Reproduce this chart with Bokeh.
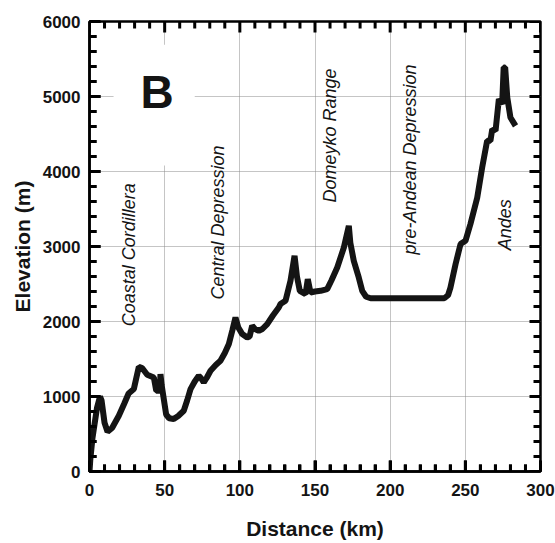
import math
from bokeh.plotting import figure
from bokeh.models import Range1d, SingleIntervalTicker, ColumnDataSource
from bokeh.core.properties import value
from bokeh.embed import file_html
from bokeh.resources import INLINE

# ---- data: topographic profile ----
distance_km = [0, 0.5, 2, 5, 7, 8, 10, 12, 15, 19.5, 23, 26, 29.5, 32.8, 35,
               38.4, 42.8, 44.4, 46.8, 47.2, 48, 51, 53, 56, 59, 62.7, 65, 67.2,
               70, 72.7, 74, 76, 78, 80.5, 84, 87.1, 90, 92.7, 95, 97.1, 99,
               101.6, 104.9, 106.5, 108.2, 110, 112.6, 115, 118.2, 122, 125.9,
               127, 130.4, 133.7, 136.4, 138, 139.9, 143.7, 145.2, 147, 150,
               153.7, 158.1, 161, 164.8, 169.2, 172.5, 173.5, 175.8, 179.1,
               181.4, 184, 187, 236, 238.5, 240.1, 243.5, 246.8, 250.1, 253.4,
               257.9, 261.2, 264.5, 266.7, 267.9, 270.1, 272.3, 274.5, 275.5,
               276.5, 277.9, 280, 283.4]
elevation_m = [0, 150, 450, 850, 1000, 950, 650, 530, 580, 743, 900, 1040, 1100,
               1396, 1380, 1290, 1253, 1076, 1076, 1300, 1150, 760, 710, 700,
               740, 810, 950, 1098, 1200, 1276, 1250, 1187, 1250, 1343, 1420,
               1476, 1580, 1699, 1880, 2053, 1920, 1832, 1787, 1800, 1943, 1900,
               1876, 1900, 1965, 2080, 2187, 2232, 2276, 2543, 2876, 2600, 2409,
               2365, 2565, 2387, 2400, 2409, 2432, 2550, 2720, 2987, 3276, 3050,
               2809, 2587, 2409, 2330, 2310, 2310, 2350, 2453, 2765, 3032, 3076,
               3300, 3650, 4053, 4409, 4409, 4565, 4543, 4965, 4898, 5387, 5387,
               4987, 4720, 4609]

region_names = ["Coastal Cordillera", "Central Depression", "Domeyko Range",
                "pre-Andean Depression", "Andes"]
region_x = [26.3, 85.8, 160.3, 213.5, 276.7]
region_y = [2890, 3320, 4480, 4160, 3290]

# tick positions
x_major = [0, 50, 100, 150, 200, 250, 300]
x_minor = [v for v in range(0, 301, 10) if v % 50]
y_major = [0, 1000, 2000, 3000, 4000, 5000, 6000]
y_minor = [v for v in range(0, 6001, 200) if v % 1000]

FONT = "Liberation Sans"
INK = "#000000"
X0, X1, Y0, Y1 = 0, 300, 0, 6000
W, H = 555, 543
ML, MR, MT, MB = 89, 15, 21, 72
FW, FH = W - ML - MR, H - MT - MB
KX = (X1 - X0) / FW   # km per pixel
KY = (Y1 - Y0) / FH   # m per pixel

p = figure(width=W, height=H, output_backend="svg", toolbar_location=None,
           x_range=Range1d(X0, X1), y_range=Range1d(Y0, Y1),
           min_border_left=ML, min_border_right=MR, min_border_top=MT,
           min_border_bottom=MB)
p.outline_line_color = INK
p.outline_line_width = 2.5

xt = SingleIntervalTicker(interval=50, num_minor_ticks=5)
yt = SingleIntervalTicker(interval=1000, num_minor_ticks=5)
p.xaxis.ticker = xt
p.yaxis.ticker = yt
p.xaxis.axis_label = "Distance (km)"
p.yaxis.axis_label = "Elevation (m)"
for ax in (p.xaxis, p.yaxis):
    ax.axis_line_color = INK
    ax.axis_line_width = 2.5
    ax.major_tick_in = 11
    ax.major_tick_out = 0
    ax.minor_tick_in = 7
    ax.minor_tick_out = 0
    ax.major_tick_line_color = INK
    ax.minor_tick_line_color = INK
    ax.major_tick_line_width = 3
    ax.minor_tick_line_width = 3
    ax.major_label_text_font = FONT
    ax.major_label_text_font_style = "bold"
    ax.major_label_text_color = "#141414"
    ax.major_label_text_font_size = "17px"
    ax.axis_label_text_font = FONT
    ax.axis_label_text_font_style = "bold"
    ax.axis_label_text_font_size = "21px"
    ax.axis_label_text_color = "#141414"
p.xaxis.major_label_standoff = 12
p.xaxis.axis_label_standoff = 18
p.yaxis.major_label_standoff = 9
p.yaxis.axis_label_standoff = 6

p.xgrid.ticker = xt
p.ygrid.ticker = yt
p.grid.grid_line_color = "#8a8a8a"
p.grid.grid_line_dash = "1 1"
p.grid.grid_line_width = 1

# white mask behind the panel letter (as in the reference)
p.quad(left=[16], right=[70], bottom=[4080], top=[5690],
       fill_color="white", line_color=None)

# inward tick marks on all four sides
MAJ, MIN = 11, 7
tx0, ty0, tx1, ty1 = [], [], [], []
for vals, ln in ((x_major, MAJ), (x_minor, MIN)):
    for v in vals:
        tx0 += [v, v]
        tx1 += [v, v]
        ty0 += [Y0, Y1]
        ty1 += [Y0 + ln * KY, Y1 - ln * KY]
for vals, ln in ((y_major, MAJ), (y_minor, MIN)):
    for v in vals:
        ty0 += [v, v]
        ty1 += [v, v]
        tx0 += [X0, X1]
        tx1 += [X0 + ln * KX, X1 - ln * KX]
p.segment(x0=tx0, y0=ty0, x1=tx1, y1=ty1, line_color=INK, line_width=3)

src = ColumnDataSource(dict(x=distance_km, y=elevation_m))
p.line("x", "y", source=src, line_color="#141414", line_width=6)

lab = ColumnDataSource(dict(x=region_x, y=region_y, t=region_names))
p.text(x="x", y="y", text="t", source=lab, angle=math.pi / 2,
       text_align="center", text_baseline="middle",
       text_font=value(FONT), text_font_style="italic",
       text_font_size="18px", text_color="#141414")

p.text(x=[45], y=[5056], text=["B"], text_align="center",
       text_baseline="middle", text_font=value(FONT),
       text_font_style="bold", text_font_size="46px", text_color="#141414")

open("out.html", "w").write(file_html(p, INLINE))
